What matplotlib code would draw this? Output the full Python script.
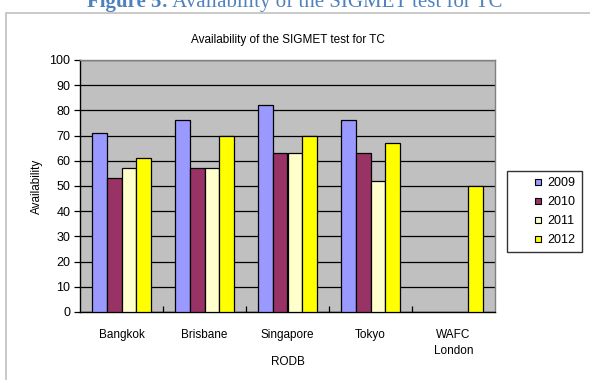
import numpy as np
import matplotlib
matplotlib.use("Agg")
import matplotlib.pyplot as plt
from matplotlib.patches import Rectangle
from matplotlib.lines import Line2D
from matplotlib.ticker import MultipleLocator, FixedLocator

stations = ["Bangkok", "Brisbane", "Singapore", "Tokyo", "WAFC\nLondon"]
years = ["2009", "2010", "2011", "2012"]
avail_2009 = [71, 76, 82, 76, np.nan]
avail_2010 = [53, 57, 63, 63, np.nan]
avail_2011 = [57, 57, 63, 52, np.nan]
avail_2012 = [61, 70, 70, 67, 50]
series = [avail_2009, avail_2010, avail_2011, avail_2012]
colors = ["#9999ff", "#993366", "#ffffcc", "#ffff00"]

W, H = 590, 380
plt.rcParams["font.family"] = ["Liberation Sans", "DejaVu Sans"]
fig = plt.figure(figsize=(W / 100, H / 100), dpi=100)

# document caption above the chart frame (bold label + plain text)
cap_y = 1 - 7 / H
t1 = fig.text(0.0, cap_y, "Figure 5:", color="#4f81bd", fontsize=15,
              family="Liberation Serif", weight="bold", ha="left", va="baseline")
t2 = fig.text(0.0, cap_y, " Availability of the SIGMET test for TC",
              color="#4f81bd", fontsize=15, family="Liberation Serif",
              ha="left", va="baseline")
fig.canvas.draw()
r = fig.canvas.get_renderer()
w1 = t1.get_window_extent(r).width
w2 = t2.get_window_extent(r).width
x0 = (W - (w1 + w2)) / 2
t1.set_x(x0 / W)
t2.set_x((x0 + w1) / W)

# chart frame
fig.patches.append(Rectangle((6 / W, -0.1), 1.2, 1 - 13 / H + 0.1,
                             transform=fig.transFigure, fill=False,
                             edgecolor="#c0c0c0", linewidth=1.2))

ax = fig.add_axes([80 / W, 1 - 312 / H, 415 / W, 252 / H])
ax.set_facecolor("#c0c0c0")

x = np.arange(len(stations))
bw = 0.18
for k, (vals, c, yr) in enumerate(zip(series, colors, years)):
    ax.bar(x + (k - 1.5) * bw, vals, width=bw, color=c, edgecolor="black",
           linewidth=0.9, label=yr, zorder=3)

ax.set_xlim(-0.5, len(stations) - 0.5)
ax.set_ylim(0, 100)
ax.yaxis.set_major_locator(MultipleLocator(10))
ax.grid(axis="y", color="black", linewidth=0.9, zorder=1)
ax.set_axisbelow(True)

ax.set_xticks(x)
ax.set_xticklabels(stations, fontsize=8.5, linespacing=1.5)
ax.xaxis.set_minor_locator(FixedLocator(np.arange(0.5, len(stations) - 0.5, 1)))
ax.tick_params(axis="x", which="major", length=0, pad=12)
ax.tick_params(axis="x", which="minor", direction="in", length=4, width=0.9)
ax.tick_params(axis="y", labelsize=9, length=4, width=0.9, pad=3)

for side in ("top", "right"):
    ax.spines[side].set_color("#808080")
    ax.spines[side].set_linewidth(1.0)
for side in ("left", "bottom"):
    ax.spines[side].set_color("black")
    ax.spines[side].set_linewidth(1.0)

ax.set_ylabel("Availability", fontsize=8.5, va="center")
ax.yaxis.set_label_coords(-(80 - 37) / 415, 0.5)
ax.set_xlabel("RODB", fontsize=8.5, va="center")
ax.xaxis.set_label_coords(0.5, -(362 - 312) / 252)
ax.set_title("Availability of the SIGMET test for TC", fontsize=8.5, pad=12)

# legend with small square keys
handles = [Line2D([], [], linestyle="none", marker="s", markersize=4.6,
                  markerfacecolor=c, markeredgecolor="black",
                  markeredgewidth=0.8) for c in colors]
leg = fig.legend(handles, years, loc="upper left",
                 bbox_to_anchor=(507 / W, 1 - 251 / H, 75 / W, 80 / H),
                 mode="expand", fontsize=9, frameon=True, fancybox=False,
                 edgecolor="black", handlelength=4.0, handletextpad=-1.3,
                 borderpad=0.5, labelspacing=0.55, borderaxespad=0)
leg.get_frame().set_linewidth(1.0)

fig.savefig("out.png", dpi=100)
